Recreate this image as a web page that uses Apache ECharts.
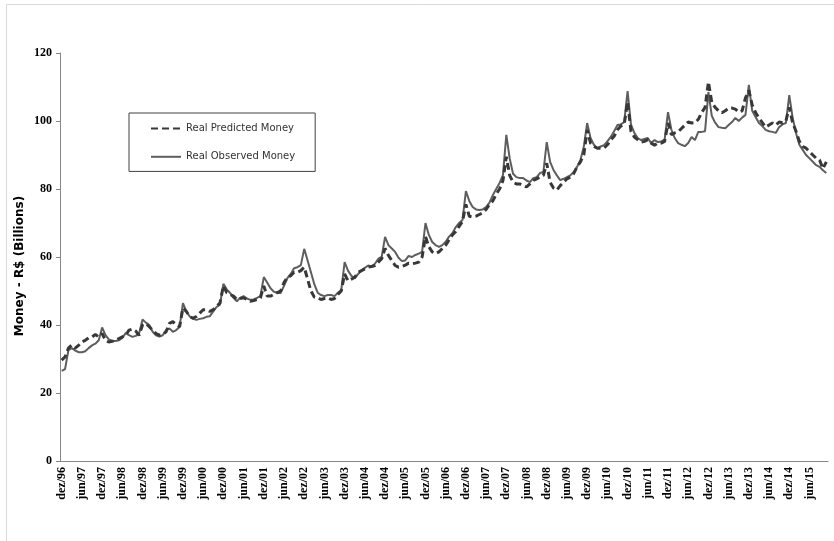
<!DOCTYPE html>
<html>
<head>
<meta charset="utf-8">
<script src="https://cdn.jsdelivr.net/npm/echarts@6/dist/echarts.min.js"></script>
<style>
html,body{margin:0;padding:0;background:#fff;}
#chart{width:834px;height:541px;}
</style>
</head>
<body>
<div id="chart"></div>
<script>
// Month abbreviations (Portuguese) used to build category labels
const monthNames = ['jan','fev','mar','abr','mai','jun','jul','ago','set','out','nov','dez'];
const firstYear = 1997, lastYear = 2015, lastMonthIndex = 10; // dez/96 .. nov/15

// Real Observed Money (R$ billions), dez/96 then one row per year (jan..dez)
const observed = [
  26.5,
  27.0, 32.6, 33.2, 32.5, 32.0, 32.0, 32.3, 33.2, 34.0, 34.5, 35.5, 39.3,
  37.0, 35.8, 35.3, 35.3, 35.5, 36.2, 37.6, 37.0, 36.5, 36.8, 37.6, 41.6,
  40.7, 40.0, 38.0, 37.0, 36.6, 37.0, 38.5, 39.0, 38.0, 38.5, 39.4, 46.4,
  44.0, 42.5, 41.8, 41.5, 41.8, 42.0, 42.4, 42.6, 44.0, 45.3, 46.0, 52.1,
  50.5, 49.4, 48.0, 47.0, 48.0, 48.5, 47.8, 47.4, 47.5, 48.0, 48.5, 54.1,
  52.5, 50.8, 49.8, 49.4, 49.4, 51.5, 53.8, 55.0, 56.7, 57.0, 57.6, 62.4,
  59.0, 55.5, 52.0, 49.5, 48.8, 48.5, 48.8, 48.8, 48.5, 49.5, 50.3, 58.5,
  56.0, 54.5, 53.8, 55.0, 56.0, 56.8, 57.5, 57.2, 58.0, 59.5, 60.0, 65.9,
  63.5, 62.5, 61.5, 59.8, 58.8, 59.0, 60.3, 60.0, 60.6, 61.0, 61.5, 70.0,
  66.5, 64.4, 63.5, 63.0, 63.5, 64.5, 66.0, 67.0, 68.8, 70.0, 70.9, 79.4,
  76.5, 74.7, 74.0, 73.8, 74.0, 74.7, 76.0, 78.2, 80.0, 81.8, 84.1, 95.9,
  89.0, 84.5, 83.5, 83.2, 83.2, 82.5, 82.0, 83.2, 83.5, 84.7, 85.0, 93.8,
  88.0, 85.6, 84.0, 82.6, 83.0, 83.5, 84.0, 85.0, 86.5, 88.5, 92.4, 99.4,
  95.0, 93.0, 92.0, 92.5, 92.9, 94.0, 95.3, 97.0, 98.8, 99.0, 99.7, 108.8,
  99.0, 96.5, 95.0, 94.4, 94.7, 95.0, 93.5, 94.4, 93.8, 94.0, 94.5, 102.6,
  97.5, 95.0, 93.5, 93.0, 92.6, 93.5, 95.3, 94.4, 96.8, 96.8, 97.0, 108.5,
  101.5, 99.5, 98.2, 98.0, 97.9, 98.8, 99.7, 100.9, 100.0, 101.0, 101.8, 110.6,
  103.0, 101.2, 99.4, 98.5, 97.4, 97.0, 96.8, 96.5, 98.2, 99.0, 99.4, 107.6,
  101.0, 96.5, 93.0, 91.5, 90.0, 89.0, 88.0, 87.0, 86.5, 85.5, 84.7
];

// Real Predicted Money (R$ billions), same months
const predicted = [
  29.7,
  30.6, 33.2, 34.1, 33.2, 34.0, 35.0, 35.5, 36.2, 36.5, 37.2, 36.5, 37.5,
  35.5, 35.0, 35.2, 35.5, 36.0, 36.5, 37.0, 38.5, 38.8, 38.2, 37.0, 40.0,
  40.5, 39.5, 38.5, 37.5, 37.0, 37.2, 38.0, 40.5, 41.0, 40.0, 39.5, 45.0,
  44.0, 42.5, 42.0, 42.5, 43.5, 44.5, 44.5, 44.0, 44.5, 45.5, 46.5, 51.5,
  49.5, 49.0, 48.5, 47.5, 47.8, 48.0, 47.5, 47.0, 47.2, 47.5, 48.0, 51.5,
  48.5, 48.5, 49.0, 49.5, 50.0, 52.5, 54.0, 54.5, 55.5, 55.5, 56.0, 57.0,
  53.5, 50.0, 48.2, 48.0, 47.5, 47.8, 48.0, 47.5, 47.8, 49.0, 50.0, 55.0,
  53.0, 53.5, 54.0, 55.5, 56.0, 56.5, 57.0, 57.2, 57.5, 58.5, 59.5, 62.5,
  60.5, 59.0, 57.5, 57.0, 57.2, 57.6, 58.2, 58.0, 58.2, 58.5, 60.0, 66.0,
  63.0, 61.5, 61.0, 61.5, 62.5, 63.5, 65.0, 66.5, 67.5, 69.0, 70.5, 75.5,
  72.0, 71.8, 72.0, 72.5, 73.0, 74.0, 75.5, 76.5, 78.5, 80.0, 82.5, 89.5,
  84.0, 82.0, 81.5, 81.5, 81.0, 80.6, 81.5, 82.5, 83.0, 83.5, 84.0, 87.6,
  82.0, 80.3, 79.7, 81.0, 82.0, 83.0, 83.5, 84.5, 86.5, 88.0, 90.0, 97.4,
  93.5, 92.5, 92.0, 92.0, 92.0, 93.0, 94.4, 95.5, 97.4, 98.5, 99.0, 105.6,
  97.0, 95.3, 94.5, 93.8, 94.0, 94.5, 93.5, 92.9, 93.5, 93.5, 94.0, 99.4,
  96.0, 96.5, 96.8, 97.8, 98.8, 99.7, 99.4, 99.5, 100.5, 102.5, 104.0, 111.5,
  105.5, 104.0, 103.0, 102.4, 103.0, 103.8, 103.8, 103.5, 102.6, 103.0, 106.8, 109.0,
  104.7, 102.5, 100.9, 99.5, 98.2, 98.8, 99.4, 98.8, 99.7, 99.5, 100.0, 104.0,
  99.5, 97.0, 94.0, 92.5, 92.0, 91.0, 90.0, 89.0, 88.5, 86.0, 88.0
];

const yTicks = [0, 20, 40, 60, 80, 100, 120];

const categories = ['dez/96'];
for (let y = firstYear; y <= lastYear; y++) {
  for (let m = 0; m < 12; m++) {
    if (y === lastYear && m > lastMonthIndex) break;
    categories.push(monthNames[m] + '/' + String(y).slice(2));
  }
}

const chart = echarts.init(document.getElementById('chart'), null, {renderer: 'canvas'});
const labelFont = {fontFamily: 'Liberation Serif', fontWeight: 'bold', fontSize: 12, color: '#000'};

chart.setOption({
  animation: false,
  backgroundColor: '#fff',
  graphic: [{
    type: 'rect',
    shape: {x: 6.5, y: 4.5, width: 1000, height: 1000},
    style: {fill: 'none', stroke: '#d9d9d9', lineWidth: 1},
    silent: true
  }],
  grid: {left: 60, right: 6, top: 53, bottom: 80},
  legend: {
    orient: 'vertical',
    left: 129, top: 113,
    itemWidth: 30, itemHeight: 14, itemGap: 17,
    padding: [10, 20, 9, 21],
    borderColor: '#404040', borderWidth: 1,
    itemStyle: {opacity: 0},
    textStyle: {fontFamily: 'DejaVu Sans', fontSize: 10, color: '#333'},
    data: ['Real Predicted Money', 'Real Observed Money']
  },
  xAxis: {
    type: 'category',
    data: categories,
    boundaryGap: true,
    axisLine: {lineStyle: {color: '#868686', width: 1}},
    axisTick: {interval: 5, length: 4, lineStyle: {color: '#868686'}},
    axisLabel: Object.assign({interval: 5, rotate: 90, margin: 6}, labelFont),
    splitLine: {show: false}
  },
  yAxis: {
    type: 'value',
    min: yTicks[0], max: yTicks[yTicks.length - 1], interval: 20,
    splitLine: {show: false},
    axisLine: {show: true, lineStyle: {color: '#868686', width: 1}},
    axisTick: {show: true, length: 4, lineStyle: {color: '#868686'}},
    axisLabel: Object.assign({margin: 8}, labelFont),
    name: 'Money - R$ (Billions)',
    nameLocation: 'middle',
    nameGap: 34,
    nameMoveOverlap: false,
    nameRotate: 90,
    nameTextStyle: {fontFamily: 'DejaVu Sans', fontWeight: 'bold', fontSize: 12, color: '#000', padding: [0, 18, 0, 0]}
  },
  series: [
    {
      name: 'Real Observed Money',
      type: 'line',
      data: observed,
      symbol: 'none',
      lineStyle: {color: '#5e5e5e', width: 2},
      itemStyle: {color: '#5e5e5e'},
      z: 2
    },
    {
      name: 'Real Predicted Money',
      type: 'line',
      data: predicted,
      symbol: 'none',
      lineStyle: {color: '#383838', width: 3, type: [7, 4]},
      itemStyle: {color: '#383838'},
      z: 3
    }
  ]
});
</script>
</body>
</html>
